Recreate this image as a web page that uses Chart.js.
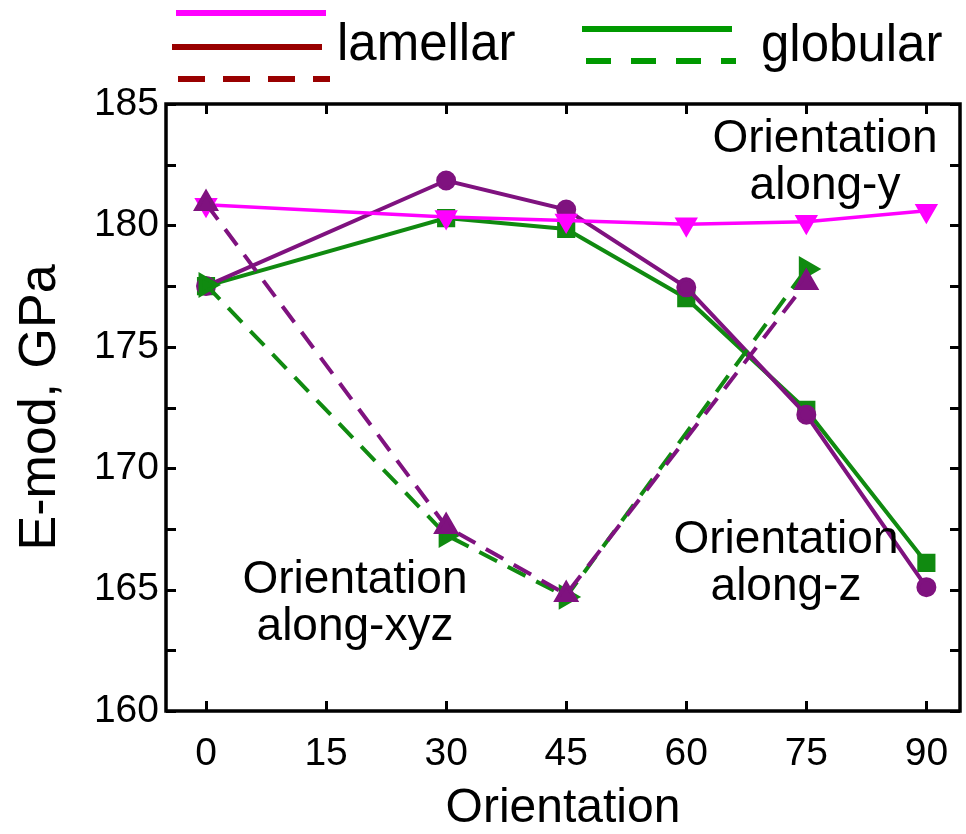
<!DOCTYPE html>
<html>
<head>
<meta charset="utf-8">
<title>E-mod vs Orientation</title>
<script src="https://cdn.jsdelivr.net/npm/chart.js@4/dist/chart.umd.min.js"></script>
<style>
  html, body { margin: 0; padding: 0; background: #ffffff; }
  canvas { display: block; }
</style>
</head>
<body>
<canvas id="chart" width="966" height="834"></canvas>
<script>
// Orientation angles (degrees)
const angles = [0, 30, 45, 60, 75, 90];
const anglesXyz = [0, 30, 45, 75];

// Elastic modulus, GPa
const lamellarAlongY = [180.85, 180.35, 180.2, 180.05, 180.15, 180.6];
const lamellarAlongZ = [177.5, 181.85, 180.65, 177.45, 172.2, 165.1];
const globularAlongZ = [177.5, 180.3, 179.85, 177.0, 172.4, 166.1];
const lamellarAlongXyz = [180.9, 167.6, 164.8, 177.65];
const globularAlongXyz = [177.55, 167.25, 164.7, 178.2];

// Axis ticks
const xTicks = [0, 15, 30, 45, 60, 75, 90];
const yTicks = [160, 165, 170, 175, 180, 185];
const yMinorStep = 2.5;

const FONT = "'Liberation Sans', Arial, Helvetica, sans-serif";
const PURPLE = '#7f127f';
const GREEN = '#108a10';
const MAGENTA = '#ff00ff';

const toPoints = (xs, ys) => xs.map((x, i) => ({ x: x, y: ys[i] }));

// Frame with inward tick marks on all four sides, plus text labels and key
const decorations = {
  id: 'decorations',
  beforeDatasetsDraw(chart) {
    const { ctx, chartArea: a, scales: { x, y } } = chart;
    ctx.save();
    ctx.strokeStyle = '#000';
    ctx.lineWidth = 3;
    ctx.beginPath();
    for (let v = yTicks[0]; v <= yTicks[yTicks.length - 1] + 1e-9; v += yMinorStep) {
      const py = Math.round(y.getPixelForValue(v)) + 0.5;
      ctx.moveTo(a.left, py); ctx.lineTo(a.left + 10, py);
      ctx.moveTo(a.right, py); ctx.lineTo(a.right - 10, py);
    }
    xTicks.forEach(v => {
      const px = Math.round(x.getPixelForValue(v)) + 0.5;
      ctx.moveTo(px, a.bottom); ctx.lineTo(px, a.bottom - 10);
      ctx.moveTo(px, a.top); ctx.lineTo(px, a.top + 10);
    });
    ctx.stroke();
    ctx.lineWidth = 3.5;
    ctx.strokeRect(a.left, a.top, a.right - a.left, a.bottom - a.top);
    ctx.restore();
  },
  afterDraw(chart) {
    const { ctx } = chart;
    ctx.save();
    ctx.fillStyle = '#000';
    ctx.textAlign = 'center';
    ctx.textBaseline = 'alphabetic';
    ctx.font = '46px ' + FONT;
    ctx.fillText('Orientation', 825, 152);
    ctx.fillText('along-y', 825, 199);
    ctx.fillText('Orientation', 786, 553);
    ctx.fillText('along-z', 786, 600);
    ctx.fillText('Orientation', 355, 593);
    ctx.fillText('along-xyz', 355, 640);

    // key
    const keyLine = (x1, x2, yy, color, dash) => {
      ctx.beginPath();
      ctx.setLineDash(dash || []);
      ctx.strokeStyle = color;
      ctx.lineWidth = 6;
      ctx.moveTo(x1, yy); ctx.lineTo(x2, yy);
      ctx.stroke();
    };
    ctx.lineCap = 'butt';
    keyLine(176, 326, 13, MAGENTA);
    keyLine(172, 322, 47, '#990000');
    keyLine(178, 330, 79, '#990000', [27, 18]);
    keyLine(582, 732, 29, '#009900');
    keyLine(586, 736, 61, '#009900', [25, 20]);
    ctx.setLineDash([]);
    ctx.fillStyle = '#000';
    ctx.textAlign = 'left';
    ctx.font = '51px ' + FONT;
    ctx.fillText('lamellar', 337, 60);
    ctx.fillText('globular', 761, 61);
    ctx.restore();
  }
};

new Chart(document.getElementById('chart'), {
  type: 'line',
  data: {
    datasets: [
      {
        label: 'lamellar along-y',
        data: toPoints(angles, lamellarAlongY),
        borderColor: MAGENTA, backgroundColor: MAGENTA,
        borderWidth: 3.5, pointStyle: 'triangle', rotation: 180,
        pointRadius: 10, order: 3
      },
      {
        label: 'lamellar along-z',
        data: toPoints(angles, lamellarAlongZ),
        borderColor: PURPLE, backgroundColor: PURPLE,
        borderWidth: 4, pointStyle: 'circle', pointRadius: 8, order: 4
      },
      {
        label: 'globular along-z',
        data: toPoints(angles, globularAlongZ),
        borderColor: GREEN, backgroundColor: GREEN,
        borderWidth: 4, pointStyle: 'rect', pointRadius: 10, order: 5
      },
      {
        label: 'lamellar along-xyz',
        data: toPoints(anglesXyz, lamellarAlongXyz),
        borderColor: PURPLE, backgroundColor: PURPLE,
        borderWidth: 4, borderDash: [20, 12],
        pointStyle: 'triangle', pointRadius: 11, order: 1
      },
      {
        label: 'globular along-xyz',
        data: toPoints(anglesXyz, globularAlongXyz),
        borderColor: GREEN, backgroundColor: GREEN,
        borderWidth: 4, borderDash: [20, 12],
        pointStyle: 'triangle', rotation: 90, pointRadius: 11, order: 2
      }
    ]
  },
  options: {
    responsive: false,
    animation: false,
    events: [],
    layout: { autoPadding: false, padding: { top: 104, right: 6, left: 0, bottom: 0 } },
    elements: { line: { tension: 0 }, point: { borderWidth: 0 } },
    plugins: { legend: { display: false }, tooltip: { enabled: false } },
    scales: {
      x: {
        type: 'linear', min: -5, max: 94.2,
        afterBuildTicks: s => { s.ticks = xTicks.map(v => ({ value: v })); },
        afterFit: s => { s.height = 123; s.paddingLeft = 0; s.paddingRight = 0; },
        grid: { display: false, drawTicks: false },
        border: { display: false },
        ticks: { color: '#000', font: { family: FONT, size: 39 }, padding: 20, maxRotation: 0 },
        title: { display: true, text: 'Orientation', color: '#000',
                 font: { family: FONT, size: 48, lineHeight: 1.05 }, padding: { top: 0, bottom: 0 } }
      },
      y: {
        type: 'linear', min: 160, max: 185,
        afterBuildTicks: s => { s.ticks = yTicks.map(v => ({ value: v })); },
        afterFit: s => { s.width = 166; s.paddingTop = 0; s.paddingBottom = 0; },
        grid: { display: false, drawTicks: false },
        border: { display: false },
        ticks: { color: '#000', font: { family: FONT, size: 39 }, padding: 7 },
        title: { display: true, text: 'E-mod, GPa', color: '#000',
                 font: { family: FONT, size: 52 }, padding: { top: 9, bottom: 0 } }
      }
    }
  },
  plugins: [decorations]
});
</script>
</body>
</html>
